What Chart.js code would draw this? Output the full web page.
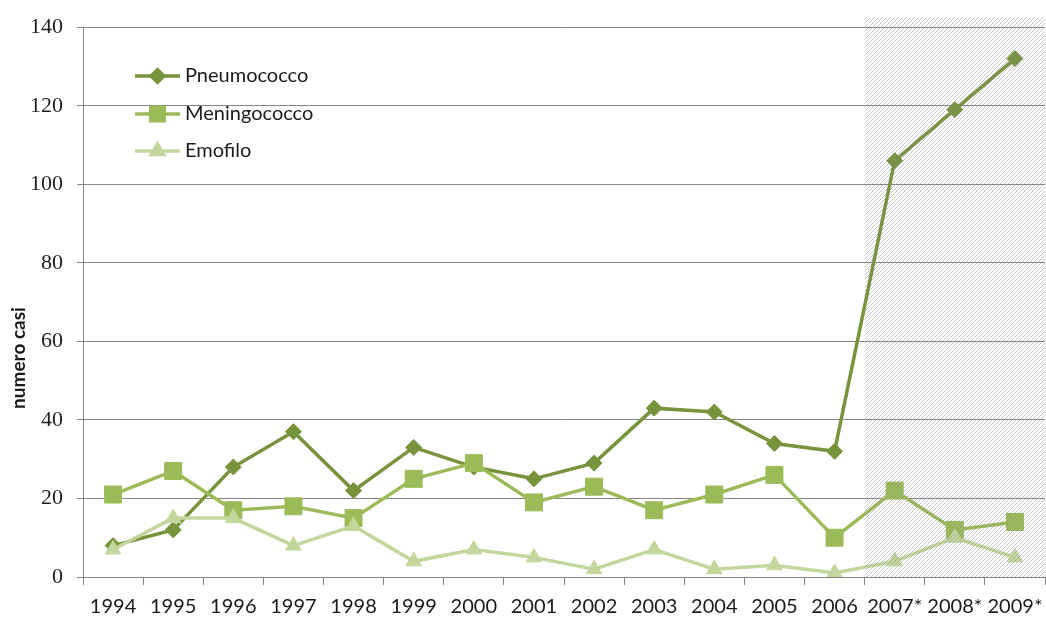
<!DOCTYPE html>
<html>
<head>
<meta charset="utf-8">
<script src="https://cdn.jsdelivr.net/npm/chart.js@4/dist/chart.umd.min.js"></script>
<style>
  html, body { margin: 0; padding: 0; background: #fff; overflow: hidden; }
  canvas { display: block; }
</style>
</head>
<body>
<canvas id="casi-graph" width="1046" height="623"></canvas>
<script>
// valori
const anni = ['1994', '1995', '1996', '1997', '1998', '1999', '2000', '2001', '2002', '2003', '2004', '2005', '2006', '2007*', '2008*', '2009*'];
const pneumococco = [8, 12, 28, 37, 22, 33, 28, 25, 29, 43, 42, 34, 32, 106, 119, 132];
const meningococco = [21, 27, 17, 18, 15, 25, 29, 19, 23, 17, 21, 26, 10, 22, 12, 14];
const emofilo = [7, 15, 15, 8, 13, 4, 7, 5, 2, 7, 2, 3, 1, 4, 10, 5];
const anniStimati = ['2007*', '2008*', '2009*'];
const yMax = 140;
const yStep = 20;

const colori = {
    pneumo: '#77933C',
    meningo: '#9BBB59',
    emofilo: '#C3D69B'
};

const gridColor = '#868686';

function makeHatch() {
    const tile = document.createElement('canvas');
    tile.width = 4;
    tile.height = 4;
    const t = tile.getContext('2d');
    t.strokeStyle = 'rgba(140,140,140,0.55)';
    t.lineWidth = 0.9;
    t.beginPath();
    t.moveTo(0, 4); t.lineTo(4, 0);
    t.moveTo(-1, 1); t.lineTo(1, -1);
    t.moveTo(3, 5); t.lineTo(5, 3);
    t.stroke();
    return tile;
}

// zona tratteggiata sopra gli anni stimati
const hatchPlugin = {
    id: 'hatch',
    afterDatasetsDraw(chart) {
        const x = chart.scales.x;
        const area = chart.chartArea;
        const first = anni.indexOf(anniStimati[0]);
        const left = (x.getPixelForValue(first - 1) + x.getPixelForValue(first)) / 2;
        const ctx = chart.ctx;
        ctx.save();
        ctx.fillStyle = ctx.createPattern(makeHatch(), 'repeat');
        ctx.fillRect(left, area.top - 10, area.right - left, area.bottom - area.top + 10);
        ctx.restore();
    }
};

// legenda dentro l'area e titolo asse y
const legendPlugin = {
    id: 'legendaInterna',
    afterDraw(chart) {
        const ctx = chart.ctx;
        const rows = [76, 114, 151];
        chart.data.datasets.forEach((ds, i) => {
            const y = rows[i];
            ctx.save();
            ctx.strokeStyle = ds.borderColor;
            ctx.lineWidth = 3.5;
            ctx.beginPath();
            ctx.moveTo(135, y);
            ctx.lineTo(180, y);
            ctx.stroke();
            ctx.fillStyle = ds.borderColor;
            ctx.strokeStyle = ds.borderColor;
            Chart.helpers.drawPoint(ctx, {
                pointStyle: ds.pointStyle,
                radius: ds.pointRadius * 0.8,
                rotation: 0,
                borderWidth: 1
            }, 157.5, y);
            ctx.fillStyle = '#1a1a1a';
            ctx.font = '20px Lato';
            ctx.textBaseline = 'middle';
            ctx.textAlign = 'left';
            ctx.fillText(ds.label, 185, y);
            ctx.restore();
        });

        ctx.save();
        ctx.translate(19, 358);
        ctx.rotate(-Math.PI / 2);
        ctx.fillStyle = '#1a1a1a';
        ctx.font = 'bold 19px Lato';
        ctx.textAlign = 'center';
        ctx.textBaseline = 'middle';
        ctx.fillText('numero casi', 0, 0);
        ctx.restore();
    }
};

function serie(label, data, color, style, radius, order) {
    return {
        label: label,
        data: data,
        borderColor: color,
        backgroundColor: color,
        borderWidth: 3.5,
        pointStyle: style,
        pointRadius: radius,
        pointBorderWidth: 1,
        pointBackgroundColor: color,
        pointBorderColor: color,
        tension: 0,
        order: order
    };
}

new Chart(document.getElementById('casi-graph'), {
    type: 'line',
    data: {
        labels: anni,
        datasets: [
            serie('Pneumococco', pneumococco, colori.pneumo, 'rectRot', 8, 2),
            serie('Meningococco', meningococco, colori.meningo, 'rect', 12, 1),
            serie('Emofilo', emofilo, colori.emofilo, 'triangle', 9, 0)
        ]
    },
    options: {
        responsive: false,
        animation: false,
        layout: { autoPadding: false, padding: { top: 22, right: 1, left: 0, bottom: 0 } },
        plugins: {
            legend: { display: false },
            tooltip: { enabled: false }
        },
        scales: {
            x: {
                type: 'category',
                offset: true,
                grid: {
                    offset: true,
                    drawOnChartArea: false,
                    drawTicks: true,
                    tickLength: 8,
                    color: gridColor
                },
                border: { color: gridColor },
                ticks: {
                    autoSkip: false,
                    maxRotation: 0,
                    padding: 10,
                    color: '#1a1a1a',
                    font: { family: 'Lato', size: 20 }
                },
                afterFit(scale) {
                    scale.height = 46;
                    scale.paddingLeft = 0;
                    scale.paddingRight = 0;
                }
            },
            y: {
                min: 0,
                max: yMax,
                ticks: {
                    stepSize: yStep,
                    padding: 14,
                    color: '#1e1e1e',
                    font: { family: 'Liberation Serif', size: 22 }
                },
                grid: {
                    color: gridColor,
                    tickLength: 6
                },
                border: { color: gridColor },
                afterFit(scale) { scale.width = 83; }
            }
        }
    },
    plugins: [hatchPlugin, legendPlugin]
});
</script>
</body>
</html>
